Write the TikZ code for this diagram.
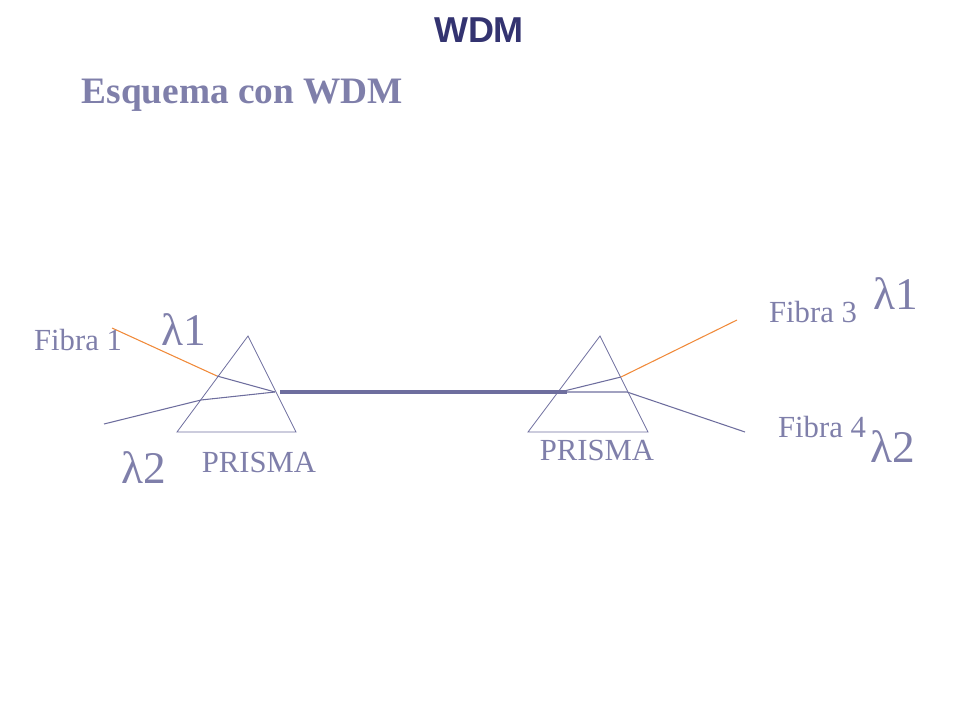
\documentclass[tikz,border=0pt]{standalone}
\usepackage{fontspec}
\setmainfont{Liberation Serif}
\newfontfamily\hsans{Liberation Sans}
\definecolor{txt}{HTML}{7F7FAA}
\definecolor{ray}{HTML}{6E6E9E}
\definecolor{org}{HTML}{F08A3A}
\definecolor{ttl}{HTML}{333370}
\begin{document}
\begin{tikzpicture}[x=0.75pt,y=-0.75pt,
  lab/.style={text=txt,font=\fontsize{23}{25}\selectfont,inner sep=0},
  lam/.style={text=txt,font=\fontsize{34}{36}\selectfont,inner sep=0},
  prism/.style={draw=ray,line width=0.6pt},
  bl/.style={draw=ray,line width=0.8pt},
  or/.style={draw=org,line width=0.8pt}]
\useasboundingbox (0,0) rectangle (960,720);
\node[text=ttl,font=\hsans\bfseries\fontsize{27}{29}\selectfont] (t) at (479,30) {WDM};
\node[text=txt,font=\bfseries\fontsize{28}{30}\selectfont,anchor=west] (s) at (77,95) {Esquema con WDM};
% left prism
\draw[prism] (248,336) -- (296,432) -- (177,432) -- cycle;
\coordinate (a1) at (112,328); \coordinate (a2) at (217,376); \coordinate (a3) at (275,392);
\coordinate (b1) at (104,424); \coordinate (b2) at (201,400);
\draw[or] (a1) -- (a2); \draw[bl] (a2) -- (a3);
\draw[bl] (b1) -- (b2) -- (a3);
\coordinate (f1) at (280,392); \coordinate (f2) at (567,392);
\draw[draw=ray,line width=3pt] (f1) -- (f2);
% right prism
\draw[prism] (600,336) -- (648,432) -- (528,432) -- cycle;
\coordinate (c1) at (560,392); \coordinate (c2) at (621,377); \coordinate (c3) at (737,320);
\coordinate (d2) at (627,392); \coordinate (d3) at (745,432);
\draw[bl] (c1) -- (c2); \draw[or] (c2) -- (c3);
\draw[bl] (560,392) -- (d2) -- (d3);
\node[lab] (l1) at (78,340) {Fibra 1};
\node[lam] (l2) at (184,330) {λ1};
\node[lam] (l3) at (144,468) {λ2};
\node[lab] (l4) at (259,462) {PRISMA};
\node[lab] (l5) at (597,450) {PRISMA};
\node[lab] (l6) at (813,312) {Fibra 3};
\node[lam] (l7) at (896,294) {λ1};
\node[lab] (l8) at (822,427) {Fibra 4};
\node[lam] (l9) at (893,447) {λ2};
\end{tikzpicture}
\end{document}
